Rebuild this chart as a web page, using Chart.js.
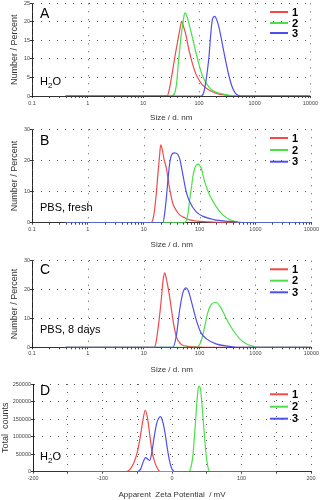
<!DOCTYPE html>
<html><head><meta charset="utf-8">
<script src="https://cdn.jsdelivr.net/npm/chart.js@4.4.1/dist/chart.umd.min.js"></script>
<style>
html,body{margin:0;padding:0;background:#fff;width:320px;height:500px;overflow:hidden}
canvas{position:absolute;left:0}
</style></head><body>
<canvas id="cA" width="320" height="123" style="top:0px"></canvas>
<canvas id="cB" width="320" height="127" style="top:123px"></canvas>
<canvas id="cC" width="320" height="125" style="top:250px"></canvas>
<canvas id="cD" width="320" height="125" style="top:375px"></canvas>
<script>
// ---------- tick labels ----------
const sizeDecades = [0.1, 1, 10, 100, 1000, 10000];
const sizeDecadeLabels = ['0.1', '1', '10', '100', '1000', '10000'];
const zetaTicks = [-200, -100, 0, 100, 200];
const seriesNames = ['1', '2', '3'];

// ---------- Panel A (H2O), size distribution ----------
const aSize1 = [0.4, 26.8, 29, 31.6, 35, 37.3, 41, 44, 47, 49.1, 52, 57.5, 66, 76, 87, 100, 115, 151, 190, 230, 300, 420, 520, 10000];
const aNum1  = [0, 0, 1.5, 4.5, 8.5, 11, 14.5, 17, 19.3, 20.2, 19, 16.8, 12.4, 8.8, 6.1, 4.3, 3, 1.6, 0.9, 0.5, 0.2, 0.05, 0, 0];
const aSize2 = [0.4, 32, 37, 40, 42, 45, 47.5, 51.8, 54, 56, 60, 66, 76, 87, 100, 115, 131, 151, 180, 227, 300, 400, 520, 10000];
const aNum2  = [0, 0, 1, 4, 8, 12.5, 16, 20, 21.8, 22.4, 21.8, 19.5, 15.8, 12, 8.5, 5.5, 3.8, 2.4, 1.4, 0.8, 0.4, 0.1, 0, 0];
const aSize3 = [0.4, 110, 122, 131, 142, 151, 161, 171, 182, 193, 205, 228, 261, 299, 343, 393, 452, 520, 600, 10000];
const aNum3  = [0, 0, 1, 3.4, 7, 10.6, 15.9, 20, 21.3, 21.5, 20.8, 18.6, 14.2, 9.7, 5.6, 2.5, 0.7, 0.15, 0, 0];

// ---------- Panel B (PBS, fresh) ----------
const bSize1 = [0.4, 13.5, 15, 16.5, 18, 19.3, 20.1, 21.5, 23, 25.4, 29, 33, 38, 44, 55, 66, 90, 130, 200, 300, 10000];
const bNum1  = [0, 0, 2, 8, 16, 22, 25, 23.5, 20.5, 17.5, 11, 6.3, 4, 2.5, 1.5, 0.9, 0.5, 0.3, 0.1, 0, 0];
const bSize2 = [0.4, 54, 62, 66, 71, 76, 82, 88, 93.5, 100, 107, 123, 151, 199, 261, 343, 452, 520, 10000];
const bNum2  = [0, 0, 3, 7, 11, 15, 17.5, 18.6, 18.8, 18.4, 17.5, 13.2, 8.9, 5.1, 2.5, 1, 0.3, 0, 0];
const bSize3 = [0.4, 22, 23.7, 25.4, 27.2, 29.1, 31.6, 35, 38.4, 44, 50.3, 57.5, 66, 87, 113, 180, 340, 520, 700, 10000];
const bNum3  = [0, 0, 3, 8, 14, 19, 21.8, 22.4, 22.3, 20.5, 15.3, 10, 6.8, 3.5, 2.1, 1, 0.4, 0.1, 0, 0];

// ---------- Panel C (PBS, 8 days) ----------
const cSize1 = [0.4, 15.3, 16.7, 18.7, 20.7, 22.1, 23.7, 25.5, 29.1, 33.3, 38.3, 47, 57, 100, 390, 10000];
const cNum1  = [0, 0, 2, 9, 17, 23, 25.8, 23.5, 17.5, 9.5, 3.7, 1, 0.4, 0.1, 0, 0];
const cSize2 = [0.4, 87, 106, 123, 140, 161, 193, 244, 299, 394, 518, 680, 955, 1050, 10000];
const cNum2  = [0, 0, 2, 7, 12, 14.8, 15.6, 13.5, 10, 6, 3, 1.2, 0.2, 0, 0];
const cSize3 = [0.4, 33.3, 38.3, 44, 50.4, 57.4, 63, 71, 87, 106, 131, 196, 340, 450, 10000];
const cNum3  = [0, 0, 4, 13, 19, 20.6, 19.5, 16, 9.5, 5, 3, 1.2, 0.3, 0, 0];

// ---------- Panel D (H2O), zeta potential ----------
const dZeta1   = [-150, -66, -60, -55, -50, -46, -42, -38.5, -35, -32, -29, -25, -21, -17, 150];
const dCounts1 = [0, 0, 8000, 25000, 55000, 95000, 145000, 175000, 150000, 105000, 60000, 28000, 10000, 0, 0];
const dZeta2   = [-150, 24, 27, 30, 33, 35.5, 37.5, 39, 41, 43, 46, 49, 51.5, 54, 150];
const dCounts2 = [0, 0, 10000, 45000, 120000, 190000, 235000, 244000, 235000, 195000, 120000, 50000, 15000, 0, 0];
const dZeta3   = [-150, -50, -45, -42, -38, -35, -32, -29, -26, -22, -19, -16.5, -13, -10, -7, -4, -1, 2, 4, 150];
const dCounts3 = [0, 0, 8000, 25000, 40000, 36000, 32000, 55000, 95000, 138000, 153000, 157000, 140000, 110000, 70000, 35000, 12000, 2000, 0, 0];

// ---------- styling ----------
const FONT = '"Liberation Sans", Arial, sans-serif';
const COLORS = ['#f04a4a', '#4ae04a', '#4f4ff0'];
const GRID = '#5a5a5a';
const DOTS = [1, 7];

function pts(xs, ys) { return xs.map((x, i) => ({x: x, y: ys[i]})); }

const sizeMinor = [];
sizeDecades.forEach((d, i) => {
  if (i < sizeDecades.length - 1) for (let k = 2; k <= 9; k++) sizeMinor.push(+(d * k).toPrecision(6));
});

function datasets(xsList, ysList) {
  return xsList.map((xs, i) => ({
    label: seriesNames[i],
    data: pts(xs, ysList[i]),
    borderColor: COLORS[i],
    borderWidth: 1.2,
    pointRadius: 0,
    fill: false,
    cubicInterpolationMode: 'monotone',
    order: 3 - i
  }));
}

function annotPlugin(p) {
  return {
    id: 'annot',
    beforeDatasetsDraw(chart) {
      if (!p.minor) return;
      // dotted vertical grid at each decade of the log axis
      const ctx = chart.ctx, sx = chart.scales.x, a = chart.chartArea;
      ctx.save();
      ctx.strokeStyle = GRID; ctx.lineWidth = 1; ctx.setLineDash(DOTS);
      sizeDecades.forEach(v => {
        const px = Math.round(sx.getPixelForValue(v)) + 0.5;
        ctx.beginPath(); ctx.moveTo(px, a.top); ctx.lineTo(px, a.bottom); ctx.stroke();
      });
      ctx.restore();
    },
    afterDraw(chart) {
      const ctx = chart.ctx;
      ctx.save();
      // minor log ticks on the x axis
      if (p.minor) {
        const sx = chart.scales.x, yb = chart.chartArea.bottom;
        ctx.strokeStyle = '#444'; ctx.lineWidth = 1;
        sizeMinor.forEach(v => {
          const px = Math.round(sx.getPixelForValue(v)) + 0.5;
          ctx.beginPath(); ctx.moveTo(px, yb); ctx.lineTo(px, yb + 2); ctx.stroke();
        });
      }
      ctx.fillStyle = '#000';
      ctx.textBaseline = 'alphabetic';
      ctx.textAlign = 'left';
      ctx.font = '14px ' + FONT;
      ctx.fillText(p.letter, 40, p.letterY);
      ctx.font = '11px ' + FONT;
      if (p.h2o) {
        let x = 40;
        ctx.fillText('H', x, p.labelY); x += ctx.measureText('H').width;
        ctx.font = '8px ' + FONT;
        ctx.fillText('2', x, p.labelY + 3); x += ctx.measureText('2').width;
        ctx.font = '11px ' + FONT;
        ctx.fillText('O', x, p.labelY);
      } else {
        ctx.fillText(p.label, 40, p.labelY);
      }
      // legend
      ctx.textBaseline = 'middle';
      ctx.font = 'bold 11px ' + FONT;
      p.legendY.forEach((y, i) => {
        ctx.strokeStyle = COLORS[i];
        ctx.lineWidth = 2;
        ctx.beginPath(); ctx.moveTo(270, y); ctx.lineTo(288, y); ctx.stroke();
        ctx.fillStyle = '#000';
        ctx.fillText(seriesNames[i], 292, y + 0.5);
      });
      ctx.restore();
    }
  };
}

function sizeChart(id, xs, ys, yMax, yStep, padTop, xAxisH, labPad, annot) {
  annot.minor = true;
  return new Chart(document.getElementById(id), {
    type: 'line',
    data: {datasets: datasets(xs, ys)},
    options: {
      responsive: false, animation: false, devicePixelRatio: 1,
      layout: {padding: {left: 0, right: 8, top: padTop, bottom: 0}},
      plugins: {legend: {display: false}, tooltip: {enabled: false}},
      scales: {
        x: {
          type: 'logarithmic', min: 0.1, max: 10000,
          afterBuildTicks: s => { s.ticks = sizeDecades.map(v => ({value: v, major: true})); },
          afterFit: s => { s.height = xAxisH; },
          ticks: {
            autoSkip: false, maxRotation: 0, minRotation: 0, padding: labPad, color: '#444',
            font: {size: 5.5, family: FONT},
            callback: function (v, i) { return sizeDecadeLabels[i]; }
          },
          grid: {color: GRID, tickColor: '#444', tickLength: 2, drawOnChartArea: false},
          border: {display: true, color: '#333', width: 1, dash: DOTS},
          title: {display: true, text: 'Size / d. nm', color: '#333', font: {size: 8, family: FONT}, padding: 0}
        },
        y: {
          min: 0, max: yMax,
          afterFit: s => { s.width = 32; },
          ticks: {stepSize: yStep, padding: 0, color: '#444', font: {size: 5.5, family: FONT}},
          grid: {color: GRID, tickColor: '#333', tickLength: 2},
          border: {display: true, color: '#222', width: 1, dash: DOTS},
          title: {display: true, text: 'Number / Percent', color: '#333', font: {size: 9, family: FONT}, padding: {top: 9, bottom: 0}}
        }
      }
    },
    plugins: [annotPlugin(annot)]
  });
}

sizeChart('cA', [aSize1, aSize2, aSize3], [aNum1, aNum2, aNum3], 25, 5, 3, 27, 2,
  {letter: 'A', letterY: 18, h2o: true, labelY: 85, legendY: [12, 23, 33]});
sizeChart('cB', [bSize1, bSize2, bSize3], [bNum1, bNum2, bNum3], 30, 10, 6.3, 27.3, 1,
  {letter: 'B', letterY: 22, label: 'PBS, fresh', labelY: 88, legendY: [15, 27, 38.7]});
sizeChart('cC', [cSize1, cSize2, cSize3], [cNum1, cNum2, cNum3], 30, 10, 10.7, 27.7, 1,
  {letter: 'C', letterY: 24, label: 'PBS, 8 days', labelY: 83, legendY: [19.3, 30.7, 42.3]});

new Chart(document.getElementById('cD'), {
  type: 'line',
  data: {datasets: datasets([dZeta1, dZeta2, dZeta3], [dCounts1, dCounts2, dCounts3])},
  options: {
    responsive: false, animation: false, devicePixelRatio: 1,
    layout: {padding: {left: 0, right: 9, top: 9, bottom: 0}},
    plugins: {legend: {display: false}, tooltip: {enabled: false}},
    scales: {
      x: {
        type: 'linear', min: -200, max: 200,
        afterFit: s => { s.height = 28.3; },
        ticks: {
          stepSize: 50, autoSkip: false, maxRotation: 0, padding: 1, color: '#444',
          font: {size: 5.5, family: FONT},
          callback: v => zetaTicks.includes(v) ? String(v) : ''
        },
        grid: {color: GRID, tickColor: '#444', tickLength: 2},
        border: {display: true, color: '#333', width: 1, dash: DOTS},
        title: {display: true, text: 'Apparent  Zeta Potential  / mV', color: '#333', font: {size: 8, family: FONT}, padding: 0}
      },
      y: {
        min: 0, max: 250000,
        afterFit: s => { s.width = 33; },
        ticks: {stepSize: 50000, padding: 0, color: '#444', font: {size: 5.5, family: FONT}, callback: v => String(v)},
        grid: {color: GRID, tickColor: '#333', tickLength: 2},
        border: {display: true, color: '#222', width: 1, dash: DOTS},
        title: {display: true, text: 'Total  counts', color: '#333', font: {size: 9, family: FONT}, padding: {top: 0, bottom: 0}}
      }
    }
  },
  plugins: [annotPlugin({letter: 'D', letterY: 20, h2o: true, labelY: 85, legendY: [19.3, 31.7, 43.7]})]
});
</script>
</body></html>
